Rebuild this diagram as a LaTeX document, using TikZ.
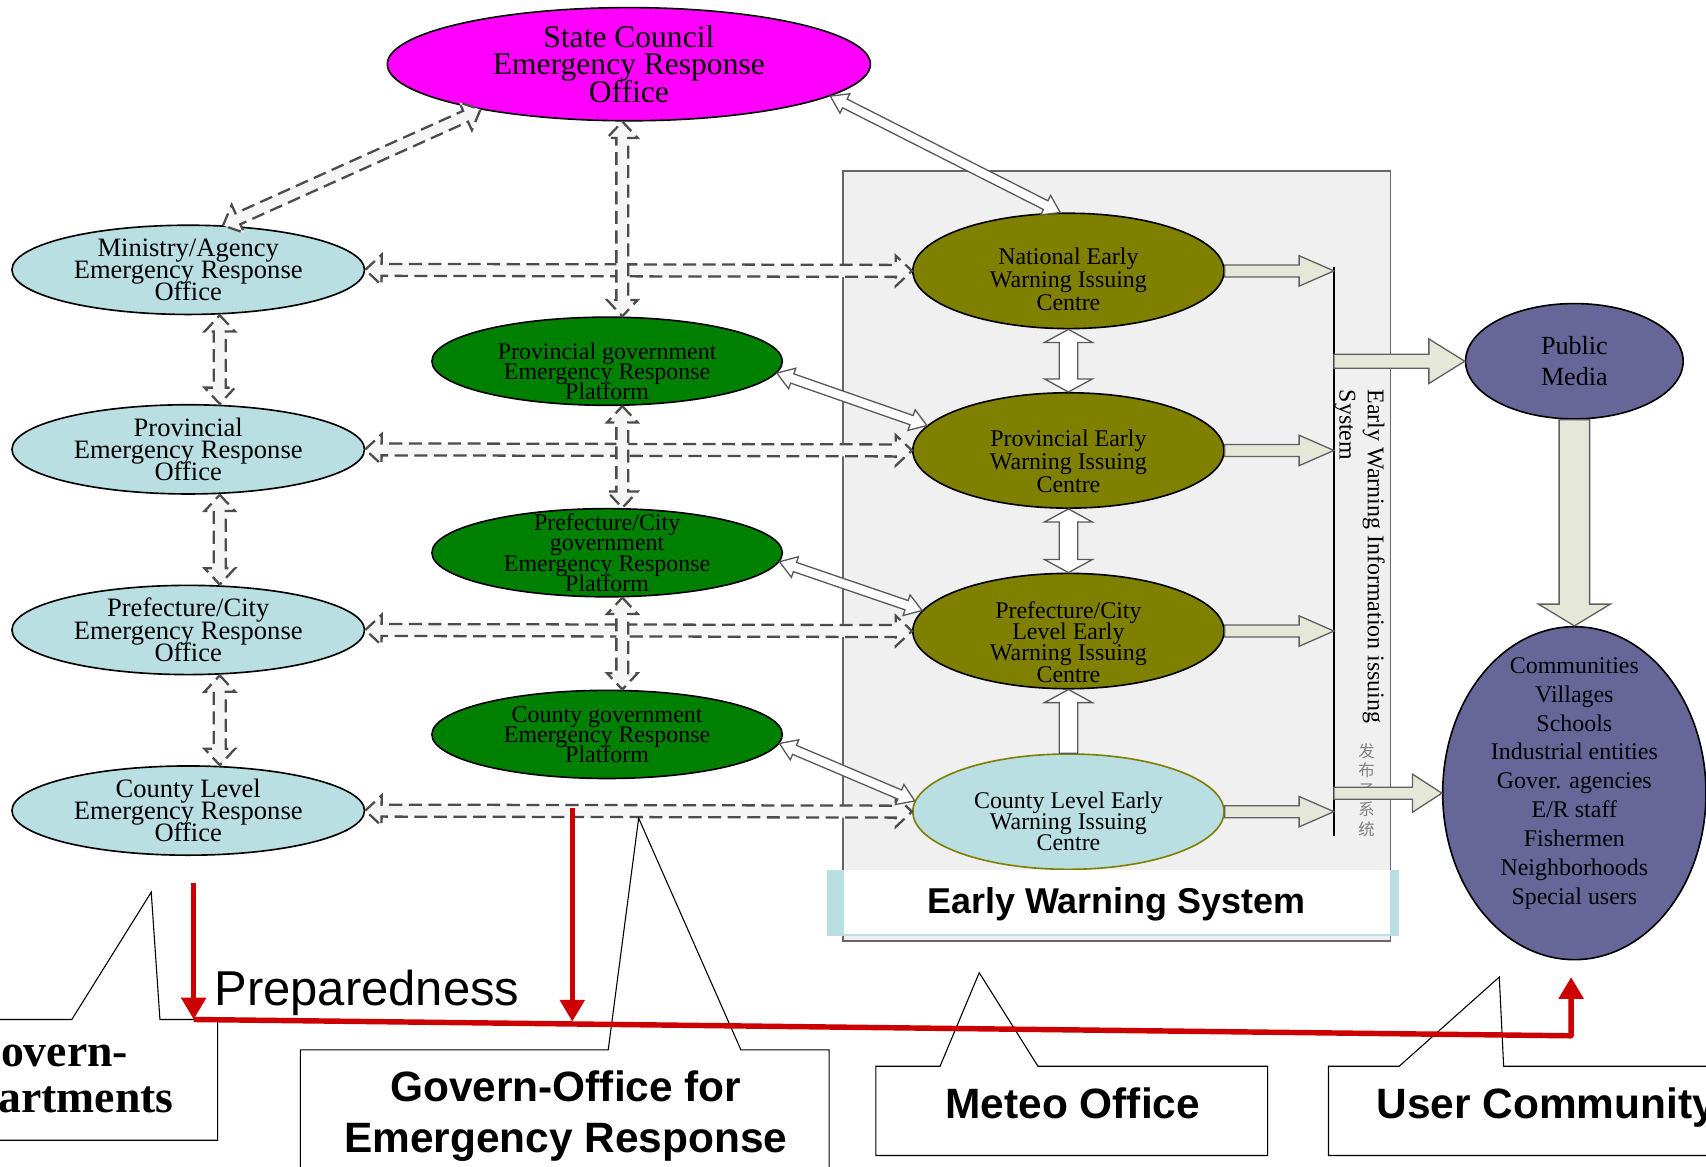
\documentclass[tikz,border=0pt]{standalone}
\usepackage{fontspec}
\setmainfont{Liberation Serif}
\setsansfont{Liberation Sans}
\newfontfamily\cjkfont{Noto Sans CJK SC}
\usetikzlibrary{calc,positioning,shapes,arrows.meta}

\definecolor{scmagenta}{RGB}{255,0,255}
\definecolor{officeblue}{RGB}{185,223,227}
\definecolor{platgreen}{RGB}{0,128,0}
\definecolor{centreolive}{RGB}{128,128,0}
\definecolor{userslate}{RGB}{102,102,153}
\definecolor{flowfill}{RGB}{229,231,216}
\definecolor{boxgray}{RGB}{240,240,240}
\definecolor{prepred}{RGB}{204,0,0}

% lines keep their baselineskip even when they touch
\setlength{\lineskiplimit}{-50pt}

% hollow arrow with a head at both ends: style, from, to, half shaft, half head, head length
\newcommand{\twoway}[6][]{%
  \draw[#1] (#2) -- ($(#2)!#6!(#3)!#5!90:(#3)$) -- ($(#2)!#6!(#3)!#4!90:(#3)$)
    -- ($(#3)!#6!(#2)!#4!-90:(#2)$) -- ($(#3)!#6!(#2)!#5!-90:(#2)$) -- (#3)
    -- ($(#3)!#6!(#2)!#5!90:(#2)$) -- ($(#3)!#6!(#2)!#4!90:(#2)$)
    -- ($(#2)!#6!(#3)!#4!-90:(#3)$) -- ($(#2)!#6!(#3)!#5!-90:(#3)$) -- cycle;}
% hollow arrow with a head at the end only
\newcommand{\oneway}[6][]{%
  \draw[#1] ($(#2)!#4!90:(#3)$) -- ($(#3)!#6!(#2)!#4!-90:(#2)$) -- ($(#3)!#6!(#2)!#5!-90:(#2)$)
    -- (#3) -- ($(#3)!#6!(#2)!#5!90:(#2)$) -- ($(#3)!#6!(#2)!#4!90:(#2)$)
    -- ($(#2)!#4!-90:(#3)$) -- cycle;}

\begin{document}
\begin{tikzpicture}[x=1pt,y=-1pt,
	stateoffice/.style={ellipse,draw,line width=1.5pt,fill=scmagenta,inner sep=-14pt,minimum width=444pt,minimum height=104pt,align=center,font=\fontsize{29}{25}\selectfont},
	office/.style={ellipse,draw,line width=1.5pt,fill=officeblue,inner sep=-14pt,minimum width=324pt,minimum height=82pt,align=center,font=\fontsize{24.4}{20.5}\selectfont},
	platform/.style={ellipse,draw,line width=1.5pt,fill=platgreen,inner sep=-14pt,minimum width=322pt,minimum height=81pt,align=center,font=\fontsize{22}{18.5}\selectfont},
	centre/.style={ellipse,draw,line width=1.5pt,fill=centreolive,minimum width=286pt,minimum height=106pt},
	user/.style={ellipse,draw,line width=1.5pt,fill=userslate,inner sep=-14pt,align=center},
	intext/.style={align=center,inner sep=0pt,font=\fontsize{22}{#1}\selectfont},
	flow/.style={draw=gray!75!black,fill=flowfill,line width=1.2pt},
	link/.style={draw=gray!70!black,fill=white,line width=1.2pt},
	dlink/.style={draw=gray!60!black,fill=gray!8,line width=2.1pt,dash pattern=on 12pt off 6pt},
	prep/.style={draw=prepred,line width=5pt,-{Triangle[width=22pt,length=20pt]}},
	callout/.style={draw,fill=white,line width=1pt},
	tag/.style={font=\sffamily\bfseries\fontsize{39}{47}\selectfont,align=center,inner sep=0pt}
	]
\useasboundingbox (0,0) rectangle (1568,1072);
\clip (0,0) rectangle (1568,1072);
\fill[white] (0,0) rectangle (1568,1072);

% early warning system box
\draw[draw=gray!80!black,fill=boxgray,line width=1.5pt] (775,157) rectangle (1278,865);

\node[stateoffice](sc) at (578,59) {State Council\\Emergency Response\\Office};

\node[office](min) at (173,248) {Ministry/Agency\\Emergency Response\\Office};
\node[office](pro) at (173,413) {Provincial\\Emergency Response\\Office};
\node[office](pre) at (173,579) {Prefecture/City\\Emergency Response\\Office};
\node[office](cou) at (173,745) {County Level\\Emergency Response\\Office};

\node[platform,label={[intext=18.5,yshift=-9pt]center:{Provincial government\\Emergency Response\\Platform}}](pgov) at (558,332) {};
\node[platform](prg) at (558,508) {Prefecture/City\\government\\Emergency Response\\Platform};
\node[platform](cgov) at (558,675) {County government\\Emergency Response\\Platform};

\node[centre,label={[intext=21,yshift=-8pt]center:{National Early\\Warning Issuing\\Centre}}](nat) at (982,249) {};
\node[centre,label={[intext=21,yshift=-10pt]center:{Provincial Early\\Warning Issuing\\Centre}}](pew) at (982,414) {};
\node[centre,label={[intext=19.5,yshift=-10pt]center:{Prefecture/City\\Level Early\\Warning Issuing\\Centre}}](prew) at (982,580) {};
\node[centre,fill=officeblue,draw=centreolive,label={[intext=19.5,yshift=-9pt]center:{County Level Early\\Warning Issuing\\Centre}}](cew) at (982,746) {};

\node[user,minimum width=200pt,minimum height=106pt,font=\fontsize{24}{29}\selectfont](pm) at (1447,332) {Public\\Media};
\node[user,minimum width=242pt,minimum height=306pt,label={[intext=26.5,yshift=9pt]center:{Communities\\Villages\\Schools\\Industrial entities\\Gover. agencies\\E/R staff\\Fishermen\\Neighborhoods\\Special users}}](com) at (1447,729) {};

\node[rotate=-90,anchor=north west,align=left,inner sep=0pt,font=\fontsize{22}{26}\selectfont](ewis) at (1273,358) {Early Warning Information issuing\\System};
\node[align=center,inner sep=0pt,text=gray,font=\cjkfont\fontsize{15}{18}\selectfont](fbxt) at (1256,726) {发\\布\\子\\系\\统};

% collector line
\coordinate (busT) at (1226,245);
\coordinate (busB) at (1226,768);
\draw[line width=1.2pt] (busT) -- (busB);

% dashed links
\coordinate (d1a) at (min.east);  \coordinate (d1b) at (nat.west);
\coordinate (d2a) at (pro.east);  \coordinate (d2b) at (pew.west);
\coordinate (d3a) at (pre.east);  \coordinate (d3b) at (prew.west);
\coordinate (d4a) at (cou.east);  \coordinate (d4b) at (cew.west);
\coordinate (d5a) at ($(min.south)+(29,0)$); \coordinate (d5b) at ($(pro.north)+(29,0)$);
\coordinate (d6a) at ($(pro.south)+(29,0)$); \coordinate (d6b) at ($(pre.north)+(29,0)$);
\coordinate (d7a) at ($(pre.south)+(29,0)$); \coordinate (d7b) at ($(cou.north)+(29,0)$);
\coordinate (d8a) at ($(min.north)+(32,1)$); \coordinate (d8b) at (sc.197);
\coordinate (d9a) at ($(sc.south)+(-6,0)$);  \coordinate (d9b) at ($(pgov.north)+(14,0)$);
\coordinate (d10a) at ($(pgov.south)+(14,0)$); \coordinate (d10b) at ($(prg.north)+(14,0)$);
\coordinate (d11a) at ($(prg.south)+(14,0)$);  \coordinate (d11b) at ($(cgov.north)+(14,0)$);
\foreach \i in {1,...,11}
  {\twoway[dlink]{d\i a}{d\i b}{5.5pt}{14pt}{15pt}}

% double line links
\coordinate (l1a) at (sc.-9.4);  \coordinate (l1b) at (nat.98);
\coordinate (l2a) at (pgov.-4);  \coordinate (l2b) at (pew.170);
\coordinate (l3a) at (prg.-3);   \coordinate (l3b) at (prew.172);
\coordinate (l4a) at (cgov.-3);  \coordinate (l4b) at (cew.176);
\foreach \i in {1,...,4}
  {\twoway[link]{l\i a}{l\i b}{4.5pt}{10pt}{15pt}}
\twoway[link]{nat.south}{pew.north}{8.5pt}{22pt}{12pt}
\twoway[link]{pew.south}{prew.north}{8.5pt}{22pt}{12pt}
\oneway[link]{cew.north}{prew.south}{8.5pt}{22pt}{12pt}

% issuing arrows
\coordinate (f1) at (nat.east -| busT);
\coordinate (f2) at (pew.east -| busT);
\coordinate (f3) at (prew.east -| busT);
\coordinate (f4) at (cew.east -| busT);
\oneway[flow]{nat.east}{f1}{5.5pt}{14pt}{32pt}
\oneway[flow]{pew.east}{f2}{5.5pt}{14pt}{32pt}
\oneway[flow]{prew.east}{f3}{5.5pt}{14pt}{32pt}
\oneway[flow]{cew.east}{f4}{5.5pt}{14pt}{32pt}
\coordinate (f5) at (busT |- pm.west);
\coordinate (f6) at (busT |- com.west);
\oneway[flow]{f5}{pm.west}{6.5pt}{20.5pt}{33pt}
\oneway[flow]{f6}{com.west}{5.5pt}{17.5pt}{27pt}
\oneway[flow]{pm.south}{com.north}{14pt}{33pt}{20pt}

% label of the box
\fill[officeblue] (760,800) rectangle (1286,860);
\fill[white] (776,800) rectangle (1278,858);
\node[font=\sffamily\bfseries\fontsize{33}{33}\selectfont,anchor=base,inner sep=0pt](ewsys) at (1026,840) {Early Warning System};

% callouts
\draw[callout] (-130,937) -- (66,937) -- (139,820) -- (147,937) -- (200,937) -- (200,1048) -- (-130,1048) -- cycle;
\draw[callout] (276,965) -- (559,965) -- (587,752) -- (681,965) -- (762,965) -- (762,1090) -- (276,1090) -- cycle;
\draw[callout] (805,980) -- (864,980) -- (900,894) -- (954,980) -- (1165,980) -- (1165,1062) -- (805,1062) -- cycle;
\draw[callout] (1221,980) -- (1286,980) -- (1378,898) -- (1382,980) -- (1600,980) -- (1600,1062) -- (1221,1062) -- cycle;
\node[font=\bfseries\fontsize{42}{42}\selectfont,align=center,inner sep=0pt](govdep) at (43,992) {Govern-\\Departments};
\node[tag](govoff) at (520,1026) {Govern-Office for\\Emergency Response};
\node[tag,anchor=base](meteo) at (986,1028) {Meteo Office};
\node[tag,anchor=base west](usercom) at (1265,1028) {User Community};

% preparedness
\coordinate (prepA) at (178,812);
\coordinate (prepB) at (178,937);
\coordinate (prepC) at (526,743);
\coordinate (prepD) at (526,939);
\coordinate (prepE) at (1444,952);
\coordinate (prepF) at (1444,898);
\draw[prep] (prepA) -- (prepB);
\draw[prep] (prepC) -- (prepD);
\draw[prep,line join=round] (prepB) -- (prepE) -- (prepF);
\node[font=\sffamily\fontsize{45}{45}\selectfont,anchor=base west,inner sep=0pt](prepl) at (197,924) {Preparedness};
\end{tikzpicture}
\end{document}
